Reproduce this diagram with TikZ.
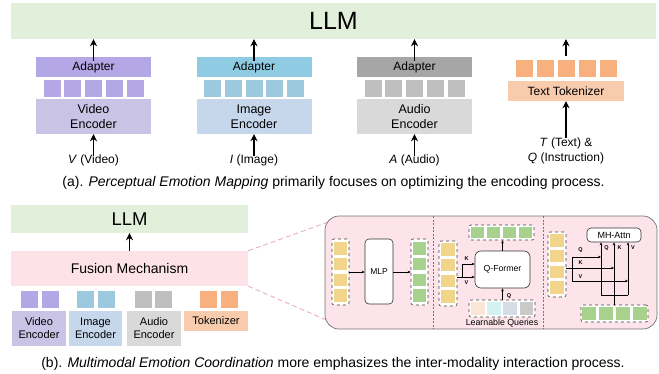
\documentclass[tikz,border=0pt]{standalone}
\usepackage{fontspec}
\setmainfont{Liberation Sans}
\usetikzlibrary{arrows.meta}
\definecolor{llmg}{HTML}{E2EFDA}
\definecolor{vidA}{HTML}{B4A7E5}
\definecolor{vidT}{HTML}{B4A7E5}
\definecolor{vidE}{HTML}{C9C3E6}
\definecolor{imgA}{HTML}{8FCCE3}
\definecolor{imgT}{HTML}{9DC9DE}
\definecolor{imgE}{HTML}{C6D7EC}
\definecolor{audA}{HTML}{A6A6A6}
\definecolor{audT}{HTML}{BFBFBF}
\definecolor{audE}{HTML}{D9D9D9}
\definecolor{txtT}{HTML}{F8B07E}
\definecolor{txtE}{HTML}{F8CBAD}
\definecolor{fusion}{HTML}{FDE3E8}
\definecolor{panel}{HTML}{FCE4EA}
\definecolor{yel}{HTML}{F1D58A}
\definecolor{grn}{HTML}{A9D18E}
\definecolor{q1}{HTML}{FBE5D6}
\definecolor{q2}{HTML}{D5F2F2}
\definecolor{q3}{HTML}{D6DCE5}
\definecolor{q4}{HTML}{C9C9C9}
\definecolor{pinkdash}{HTML}{E6A6C6}
\tikzset{
  box/.style={draw=none, inner sep=0pt, align=center},
  tok/.style={draw=none, inner sep=0pt, minimum width=17pt, minimum height=17pt},
  bigarr/.style={line width=1.9pt, -{Stealth[length=7pt,width=7pt]}},
  smarr/.style={line width=0.5pt, -{Stealth[length=3pt,width=2.6pt]}},
  smline/.style={line width=0.5pt},
  cont/.style={draw=black!75, dashed, line width=0.6pt, rounded corners=2pt, fill=white, inner sep=0pt},
  rtok/.style={draw=none, inner sep=0pt},
  rbox/.style={draw=black!80, line width=0.6pt, fill=white, rounded corners=4pt, inner sep=0pt, align=center},
  qkv/.style={font=\fontsize{5.5}{6}\selectfont\bfseries, inner sep=0pt},
}
\begin{document}
\begin{tikzpicture}[x=1pt,y=-1pt]
\useasboundingbox (0,0) rectangle (659,373);
% ---------------- (a) ----------------
\node[box, fill=llmg, minimum width=645pt, minimum height=36pt, font=\fontsize{25}{28}\selectfont] (llm) at (333.5,21) {LLM};
\foreach \n/\cx/\ca/\ct/\ce/\enc/\lab in {v/93.5/vidA/vidT/vidE/Video/{\textit{V} (Video)}, i/254/imgA/imgT/imgE/Image/{\textit{I} (Image)}, a/414.5/audA/audT/audE/Audio/{\textit{A} (Audio)}}{
  \node[box, fill=\ca, minimum width=115pt, minimum height=20pt, font=\fontsize{12}{14}\selectfont] (ad\n) at (\cx,67) {Adapter};
  \foreach \k/\dx in {1/-41.5,2/-20.75,3/0,4/20.75,5/41.5}
    \node[tok, fill=\ct] (t\n\k) at (\cx+\dx,88.5) {};
  \node[box, fill=\ce, minimum width=115pt, minimum height=35pt, font=\fontsize{12.5}{15}\selectfont] (en\n) at (\cx,116.5) {\enc\\Encoder};
  \node[box, font=\fontsize{12}{14}\selectfont, anchor=base] (lb\n) at (\cx,163.5) {\lab};
  \draw[bigarr] ([yshift=-1pt]lb\n.north) -- (en\n.south);
  \draw[bigarr] ([yshift=-4pt]ad\n.north) -- (ad\n.north |- llm.south);
}
\foreach \k/\dx in {1/-42,2/-21,3/0,4/21,5/42}
  \node[tok, fill=txtT] (tt\k) at (566+\dx,68.5) {};
\node[box, fill=txtE, minimum width=116pt, minimum height=20pt, font=\fontsize{12}{14}\selectfont] (tokz) at (566,91) {Text Tokenizer};
\node[box, font=\fontsize{12}{15}\selectfont, anchor=north] (lbt) at (566,138) {\textit{T} (Text) \&\\\textit{Q} (Instruction)};
\draw[bigarr] (lbt.north) -- (tokz.south);
\coordinate (ttop) at (566,56);
\draw[bigarr] (ttop) -- (ttop |- llm.south);
\node[box, font=\fontsize{14}{16}\selectfont] (capa) at (333.5,183) {(a). \textit{Perceptual Emotion Mapping} primarily focuses on optimizing the encoding process.};
% ---------------- (b) ----------------
\node[box, fill=llmg, minimum width=237pt, minimum height=28pt, font=\fontsize{18.5}{20}\selectfont] (llm2) at (129.5,219) {LLM};
\node[box, fill=fusion, minimum width=237pt, minimum height=35pt, font=\fontsize{14}{16}\selectfont] (fus) at (129.5,268.5) {Fusion Mechanism};
\draw[bigarr] (fus.north) -- (llm2.south);
\foreach \x/\c/\nm in {29.5/vidT/bv1,50.5/vidT/bv2,85.5/imgT/bi1,106.5/imgT/bi2,143.5/audT/ba1,163.5/audT/ba2,208.5/txtT/bt1,229.5/txtT/bt2}
  \node[tok, fill=\c] (\nm) at (\x,299.5) {};
\node[box, fill=vidE, minimum width=54pt, minimum height=35pt, font=\fontsize{11}{13}\selectfont] (bev) at (39,328.5) {Video\\Encoder};
\node[box, fill=imgE, minimum width=53pt, minimum height=35pt, font=\fontsize{11}{13}\selectfont] (bei) at (95.5,328.5) {Image\\Encoder};
\node[box, fill=audE, minimum width=54pt, minimum height=35pt, font=\fontsize{11}{13}\selectfont] (bea) at (154,328.5) {Audio\\Encoder};
\node[box, fill=txtE, minimum width=64pt, minimum height=20pt, font=\fontsize{11}{13}\selectfont] (bet) at (216,321) {Tokenizer};
\node[box, font=\fontsize{14}{16}\selectfont] (capb) at (333,364) {(b). \textit{Multimodal Emotion Coordination} more emphasizes the inter-modality interaction process.};
% zoom lines
\coordinate (zt) at (331,221);
\coordinate (zb) at (331,322);
\draw[pinkdash, dashed, line width=0.8pt, dash pattern=on 5pt off 3pt] (fus.north east) -- (zt);
\draw[pinkdash, dashed, line width=0.8pt, dash pattern=on 5pt off 3pt] (fus.south east) -- (zb);
% panel
\node[draw=black!55, line width=0.7pt, fill=panel, rounded corners=14pt, minimum width=332pt, minimum height=113pt, inner sep=0pt] (pan) at (491,272.5) {};
\coordinate (d1t) at (433,216); \coordinate (d1b) at (433,329);
\coordinate (d2t) at (543,216); \coordinate (d2b) at (543,329);
\draw[black!55, dashed, line width=0.6pt, dash pattern=on 2pt off 1.5pt] (d1t) -- (d1b);
\draw[black!55, dashed, line width=0.6pt, dash pattern=on 2pt off 1.5pt] (d2t) -- (d2b);
% section 1
\node[cont, minimum width=17pt, minimum height=66pt] (c1) at (340.5,272) {};
\node[cont, minimum width=17pt, minimum height=66pt] (c2) at (419.5,272) {};
\foreach \k/\y in {1/248.4,2/264.1,3/279.9,4/295.6}{
  \node[rtok, fill=yel, minimum width=13pt, minimum height=12.75pt] (y1\k) at (340.5,\y) {};
  \node[rtok, fill=grn, minimum width=13pt, minimum height=12.75pt] (g1\k) at (419.5,\y) {};
}
\node[rbox, minimum width=28pt, minimum height=65pt, font=\fontsize{8.5}{10}\selectfont] (mlp) at (379,271.5) {MLP};
\draw[smarr] (c1.east) -- (mlp.west |- c1.east);
\draw[smarr] (mlp.east |- c2.west) -- (c2.west);
% section 2
\node[cont, minimum width=18pt, minimum height=65pt] (c3) at (448,273.5) {};
\foreach \k/\y in {1/249.5,2/265.2,3/281,4/296.7}
  \node[rtok, fill=yel, minimum width=14pt, minimum height=12.5pt] (y2\k) at (448,\y) {};
\node[rbox, minimum width=55pt, minimum height=37pt, rounded corners=6pt, font=\fontsize{8.7}{10}\selectfont] (qf) at (502.5,269.5) {Q-Former};
\node[cont, minimum width=65pt, minimum height=15pt] (gr2) at (501.5,232.5) {};
\foreach \k/\dx in {1/-24,2/-8,3/8,4/24}
  \node[rtok, fill=grn, minimum width=13.5pt, minimum height=11pt] (g2\k) at (501.5+\dx,232.5) {};
\node[cont, minimum width=66pt, minimum height=17pt] (lq) at (502,308.5) {};
\foreach \k/\dx/\c in {1/-24.4/q1,2/-8.1/q2,3/8.1/q3,4/24.4/q4}
  \node[rtok, fill=\c, minimum width=13.8pt, minimum height=13pt] (q\k) at (502+\dx,308.5) {};
\node[font=\fontsize{8.8}{10}\selectfont, inner sep=0pt] (lql) at (502,323) {Learnable Queries};
\draw[smarr] (qf.north) -- (qf.north |- gr2.south);
\draw[smarr] (lq.north -| qf.south) -- (qf.south);
\node[qkv] (lq2) at (509,296) {Q};
\coordinate (kvs) at (c3.east |- 0,277);
\coordinate (kvb) at (462,277);
\coordinate (kvt) at (462,264);
\draw[smarr] (kvs) -- (kvs -| qf.west);
\draw[smarr] (kvb) -- (kvt) -- (kvt -| qf.west);
\node[qkv] (lk2) at (466.5,258.5) {K};
\node[qkv] (lv2) at (466.5,283) {V};
% section 3
\node[cont, minimum width=18pt, minimum height=65pt] (c4) at (557,264.5) {};
\foreach \k/\y in {1/240.5,2/256.2,3/272,4/287.7}
  \node[rtok, fill=yel, minimum width=14pt, minimum height=12.5pt] (y3\k) at (557,\y) {};
\node[rbox, minimum width=54pt, minimum height=14pt, font=\fontsize{9}{10}\selectfont] (mha) at (614,235) {MH-Attn};
\node[cont, minimum width=67pt, minimum height=17pt] (gr3) at (614.5,313.5) {};
\foreach \k/\dx in {1/-25.2,2/-8.4,3/8.4,4/25.2}
  \node[rtok, fill=grn, minimum width=14pt, minimum height=12.5pt] (g3\k) at (614.5+\dx,313.5) {};
\coordinate (s3a) at (c4.east |- 0,268);
\coordinate (s3q) at (572,257);
\coordinate (s3v) at (572,281);
\coordinate (xq) at (601,295);
\coordinate (xv) at (628,295);
\draw[smline] (s3a) -- (572,268);
\draw[smline] (s3q) -- (s3v);
\draw[smarr] (s3q) -- (xq |- s3q);
\draw[smarr] (572,268) -- (614,268);
\draw[smarr] (s3v) -- (xv |- s3v);
\draw[smarr] (xq) -- (xq |- mha.south);
\draw[smarr] (gr3.north -| 614,0) -- (614,0 |- mha.south);
\draw[smarr] (xv) -- (xv |- mha.south);
\draw[smline] (xq) -- (xv);
\node[qkv] at (580.5,250.5) {Q};
\node[qkv] at (580.5,263) {K};
\node[qkv] at (580.5,276.5) {V};
\node[qkv] at (606.5,248) {Q};
\node[qkv] at (619.5,248) {K};
\node[qkv] at (633,248) {V};
\end{tikzpicture}
\end{document}
